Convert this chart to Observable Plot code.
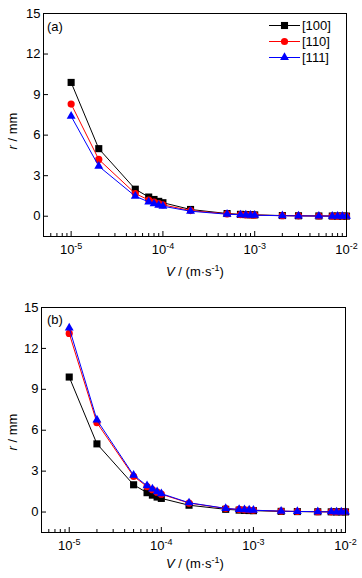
<!DOCTYPE html>
<html><head><meta charset="utf-8">
<script src="https://cdn.jsdelivr.net/npm/d3@7"></script>
<script src="https://cdn.jsdelivr.net/npm/@observablehq/plot@0.6"></script>
<style>
body{margin:0;background:#fff;}
#wrap{position:relative;width:362px;height:578px;font-family:"Liberation Sans",Arial,sans-serif;overflow:hidden;}
#wrap > .panel{position:absolute;left:0;}
#overlay{position:absolute;left:0;top:0;pointer-events:none;}
</style></head><body><div id="wrap"></div>
<script>
// ---- data ----
const velocity = [1e-5, 2e-5, 5e-5, 7e-5, 8e-5, 9e-5, 1e-4, 2e-4, 5e-4, 7e-4, 8e-4, 9e-4, 1e-3, 2e-3, 3e-3, 5e-3, 7e-3, 8e-3, 9e-3, 1e-2];
const seriesNames = ["[100]", "[110]", "[111]"];
const panelLabels = ["(a)", "(b)"];
const a100 = [9.9, 5.0, 2.0, 1.42, 1.24, 1.1, 1.0, 0.5, 0.2, 0.14, 0.12, 0.11, 0.1, 0.05, 0.033, 0.02, 0.014, 0.012, 0.011, 0.01];
const a110 = [8.3, 4.2, 1.68, 1.2, 1.05, 0.93, 0.84, 0.42, 0.17, 0.12, 0.105, 0.093, 0.084, 0.042, 0.028, 0.017, 0.012, 0.0105, 0.0093, 0.0084];
const a111 = [7.4, 3.7, 1.48, 1.06, 0.92, 0.82, 0.74, 0.37, 0.15, 0.106, 0.092, 0.082, 0.074, 0.037, 0.025, 0.015, 0.011, 0.0092, 0.0082, 0.0074];
const b100 = [9.9, 5.0, 2.0, 1.42, 1.24, 1.1, 1.0, 0.5, 0.2, 0.14, 0.12, 0.11, 0.1, 0.05, 0.033, 0.02, 0.014, 0.012, 0.011, 0.01];
const b110 = [13.1, 6.55, 2.62, 1.87, 1.64, 1.46, 1.31, 0.66, 0.26, 0.19, 0.16, 0.15, 0.13, 0.066, 0.044, 0.026, 0.019, 0.016, 0.015, 0.013];
const b111 = [13.5, 6.75, 2.7, 1.93, 1.69, 1.5, 1.35, 0.68, 0.27, 0.19, 0.17, 0.15, 0.135, 0.068, 0.045, 0.027, 0.019, 0.017, 0.015, 0.0135];
const yTicks = [0, 3, 6, 9, 12, 15];
const xTicks = [1e-5, 1e-4, 1e-3, 1e-2];
const xMinorTicks = [6e-6, 7e-6, 8e-6, 9e-6, 2e-5, 3e-5, 4e-5, 5e-5, 6e-5, 7e-5, 8e-5, 9e-5,
  2e-4, 3e-4, 4e-4, 5e-4, 6e-4, 7e-4, 8e-4, 9e-4, 2e-3, 3e-3, 4e-3, 5e-3, 6e-3, 7e-3, 8e-3, 9e-3];
const xLabel = "V";
const yLabel = "r";

// ---- styles ----
const colors = ["#000000", "#ff0000", "#0000ff"];
const symbols = ["square", "circle", "triangle"];
const radii = [4, 3.6, 3.3];
const FONT = '"Liberation Sans", Arial, sans-serif';
const NS = "http://www.w3.org/2000/svg";

function makePanel(series, opt) {
  const {height, mt, mb, ml, mr} = opt;
  const width = 362;
  const ph = height - mt - mb, pw = width - ml - mr;
  const marks = [];
  series.forEach((vals, i) => {
    const rows = velocity.map((v, k) => ({v, r: vals[k]}));
    marks.push(Plot.line(rows, {x: "v", y: "r", stroke: colors[i], strokeWidth: 1}));
    marks.push(Plot.dot(rows, {x: "v", y: "r", symbol: symbols[i], fill: colors[i], stroke: "none", r: radii[i]}));
  });
  marks.push(Plot.tickX(xTicks, {x: d => d, stroke: "black", insetTop: ph - 5}));
  marks.push(Plot.tickX(xMinorTicks, {x: d => d, stroke: "black", insetTop: ph - 3}));
  marks.push(Plot.tickY(yTicks, {y: d => d, stroke: "black", insetRight: pw - 5}));
  marks.push(Plot.axisY({ticks: yTicks, tickSize: 0, tickPadding: 3, fontSize: 13, label: null}));
  marks.push(Plot.axisX({ticks: xTicks, tickSize: 0, tickPadding: 8, fontSize: 13, label: null,
    tickFormat: d => String(Math.round(Math.log10(d)))}));
  marks.push(Plot.frame({stroke: "black", strokeWidth: 1}));
  const p = Plot.plot({
    width, height, marginTop: mt, marginBottom: mb, marginLeft: ml, marginRight: mr,
    style: {fontFamily: FONT, fontSize: "13px", color: "black", background: "white"},
    x: {type: "log", domain: [5e-6, 1e-2]},
    y: {domain: [-1.5, 15]},
    marks
  });
  p.querySelectorAll('g[aria-label="x-axis tick label"] text').forEach(t => {
    const e = t.textContent;
    t.textContent = "10";
    const s = document.createElementNS(NS, "tspan");
    s.setAttribute("dy", "-5");
    s.setAttribute("font-size", "9");
    s.textContent = e;
    t.appendChild(s);
  });
  return p;
}

const wrap = document.getElementById("wrap");
const pa = document.createElement("div"); pa.className = "panel"; pa.style.top = "0px";
pa.appendChild(makePanel([a100, a110, a111], {height: 290, mt: 13, mb: 54, ml: 43, mr: 16}));
wrap.appendChild(pa);
const pb = document.createElement("div"); pb.className = "panel"; pb.style.top = "290px";
pb.appendChild(makePanel([b100, b110, b111], {height: 288, mt: 17, mb: 46, ml: 41, mr: 17}));
wrap.appendChild(pb);

// ---- overlay: axis titles, panel letters, legend ----
const ov = document.createElementNS(NS, "svg");
ov.setAttribute("id", "overlay");
ov.setAttribute("width", 362); ov.setAttribute("height", 578);
ov.setAttribute("font-family", FONT);
ov.setAttribute("font-size", 13);
function el(name, attrs, parent) {
  const e = document.createElementNS(NS, name);
  for (const k in attrs) e.setAttribute(k, attrs[k]);
  (parent || ov).appendChild(e);
  return e;
}
function ylab(cy) {
  const t = el("text", {transform: `translate(17,${cy}) rotate(-90)`, "text-anchor": "middle"});
  const i = el("tspan", {"font-style": "italic"}, t); i.textContent = yLabel;
  const r = el("tspan", {}, t); r.textContent = " / mm";
}
function xlab(cx, by) {
  const t = el("text", {x: cx, y: by, "text-anchor": "middle"});
  const i = el("tspan", {"font-style": "italic"}, t); i.textContent = xLabel;
  const a = el("tspan", {}, t); a.textContent = " / (m\u00b7s";
  const s = el("tspan", {dy: -5, "font-size": 9}, t); s.textContent = "-1";
  const c = el("tspan", {dy: 5}, t); c.textContent = ")";
}
ylab(131); ylab(432);
xlab(195, 276); xlab(195, 568);
el("text", {x: 47, y: 31}).textContent = panelLabels[0];
el("text", {x: 47, y: 324}).textContent = panelLabels[1];

seriesNames.forEach((name, i) => {
  const y = 25.5 + i * 16;
  el("line", {x1: 269, x2: 300, y1: y, y2: y, stroke: colors[i], "stroke-width": 1});
  const sym = {square: d3.symbolSquare, circle: d3.symbolCircle, triangle: d3.symbolTriangle}[symbols[i]];
  el("path", {d: d3.symbol(sym, Math.PI * radii[i] * radii[i])(), transform: `translate(284.5,${y})`, fill: colors[i]});
  el("text", {x: 302, y: y + 4.5}).textContent = name;
});
wrap.appendChild(ov);
</script></body></html>
